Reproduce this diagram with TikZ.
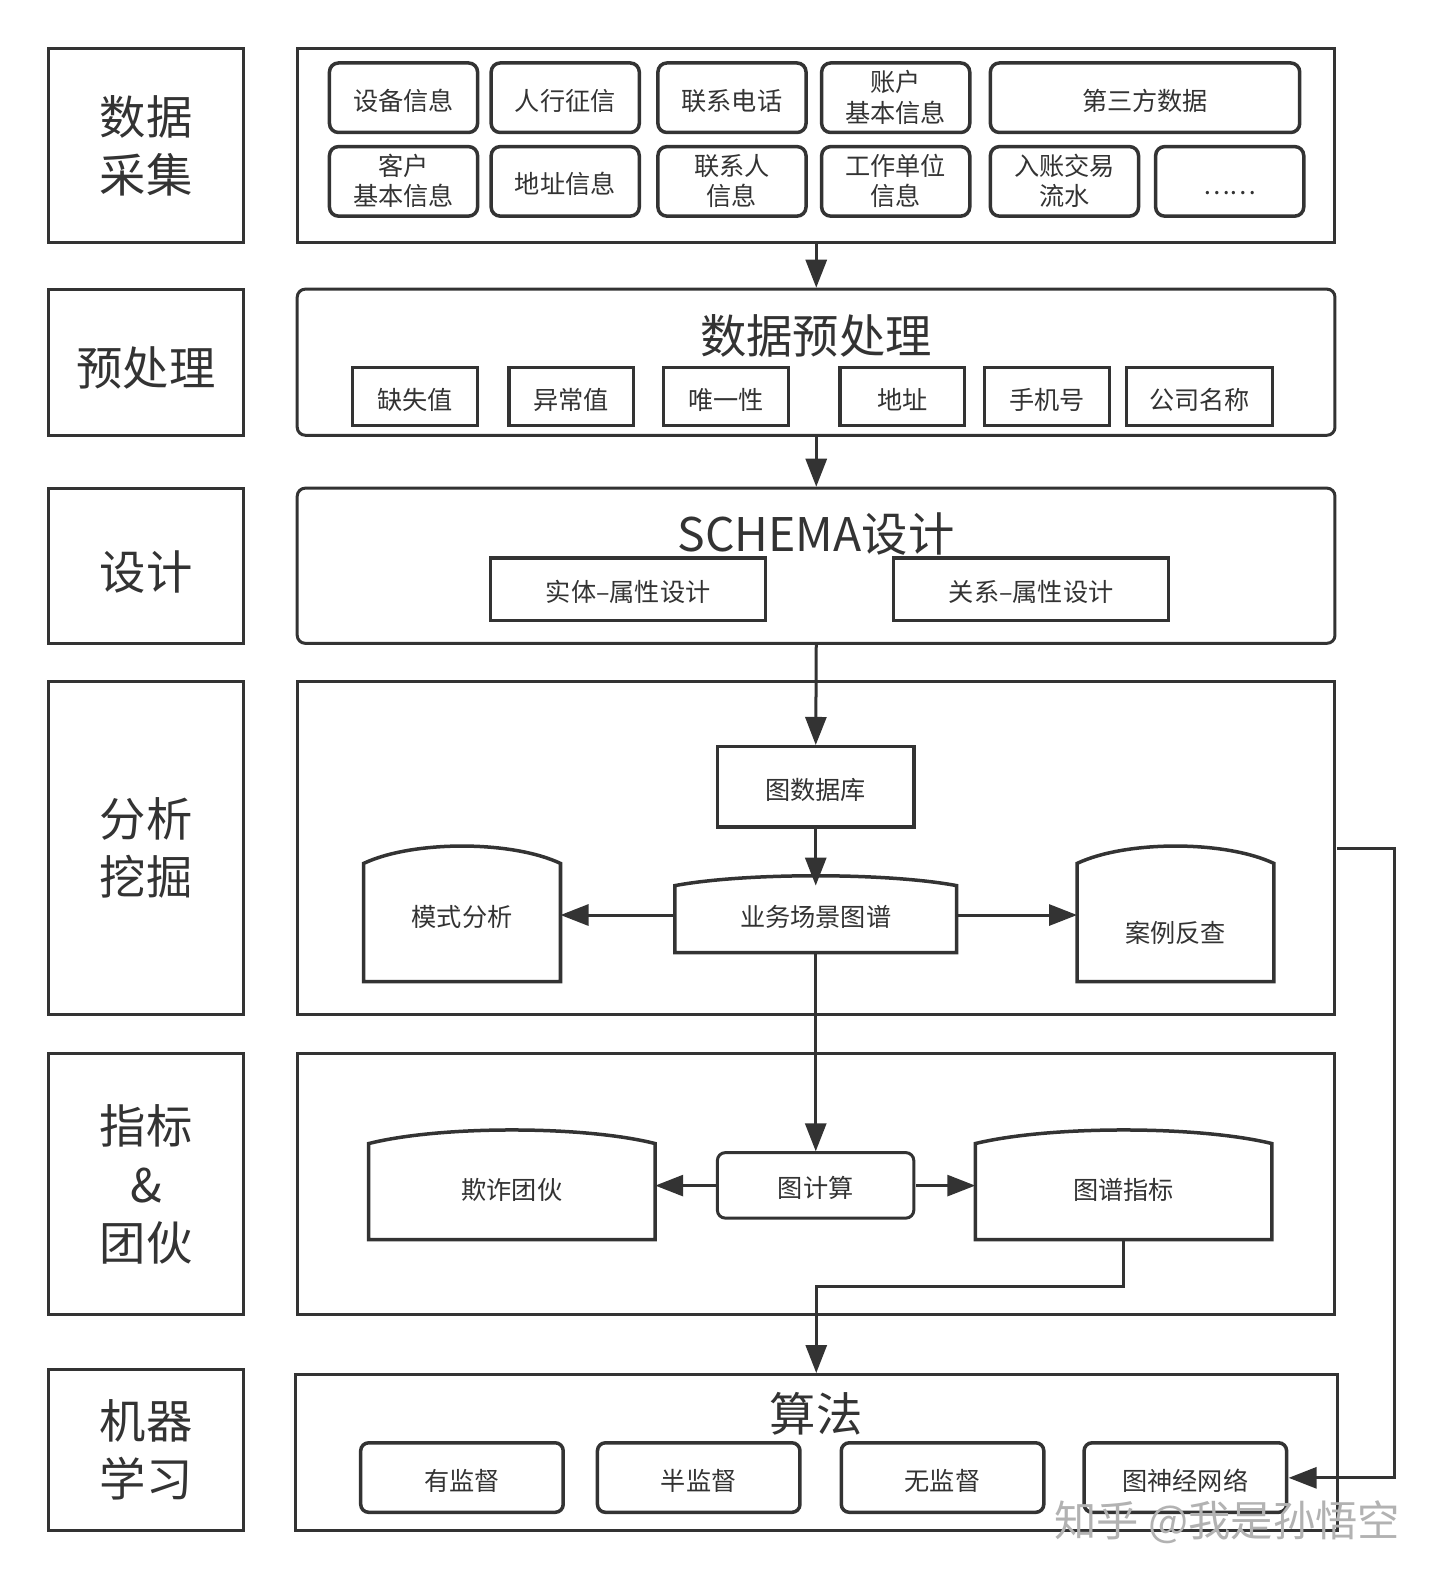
\documentclass[tikz,border=0pt]{standalone}
\usepackage{fontspec}
\setmainfont{Noto Sans CJK SC}
\usetikzlibrary{arrows.meta,calc}

\definecolor{ink}{RGB}{51,51,51}
\newcommand\hugefont{\fontsize{46}{58}\selectfont}
\newcommand\smallfont{\fontsize{25}{30}\selectfont}
\newcommand\stacked[2]{\begin{tabular}{@{}c@{}}\rule{0pt}{#1}#2\end{tabular}}
\newcommand\capline[2]{%
  \draw[draw=ink, line width=3.5pt] (#1.south west) -- (#1.north west)
    .. controls ($(#1.north west)!0.25!(#1.north east)+(0,-#2)$) and ($(#1.north west)!0.75!(#1.north east)+(0,-#2)$) .. (#1.north east)
    -- (#1.south east) -- cycle;}

\tikzset{
  stage/.style={draw=ink, line width=3pt, minimum width=194pt, align=center, font=\hugefont, text=ink,
    execute at begin node={\rule{0pt}{50pt}}},
  panel/.style={draw=ink, line width=3pt, minimum width=1030pt},
  item/.style={draw=ink, line width=3.5pt, rounded corners=9pt, minimum width=147pt, minimum height=69pt, inner sep=0pt, align=center, font=\smallfont, text=ink,
    execute at begin node={\rule{0pt}{27pt}}},
  tag/.style={draw=ink, line width=3.5pt, minimum width=124pt, minimum height=58pt, inner sep=0pt, font=\smallfont, text=ink,
    execute at begin node={\rule{0pt}{27pt}}},
  heading/.style={font=\hugefont, text=ink},
  capbox/.style={minimum width=195pt, minimum height=117pt, inner sep=0pt},
  flow/.style={draw=ink, line width=3pt, -{Triangle[length=28pt,width=21pt]}},
}

\begin{document}
\begin{tikzpicture}[x=1pt,y=-1pt,scale=1.0075,transform shape]
  \useasboundingbox[fill=white] (0,0) rectangle (1429.3,1567.2);

  % stages
  \node[stage, minimum height=193pt] (collect) at (145,144.5) {\stacked{53pt}{数据\\采集}};
  \node[stage, minimum height=145pt] (prep) at (145,359.5) {预处理};
  \node[stage, minimum height=154pt] (design) at (145,561.5) {设计};
  \node[stage, minimum height=331pt] (mining) at (145,841.5) {\stacked{52pt}{分析\\挖掘}};
  \node[stage, minimum height=259pt] (index) at (145,1175.5) {\stacked{53pt}{指标\\\&\\团伙}};
  \node[stage, minimum height=160pt] (learn) at (145,1439) {\stacked{52pt}{机器\\学习}};

  % panels
  \node[panel, minimum height=193pt] (p1) at (810,144.5) {};
  \node[panel, minimum height=145pt, rounded corners=8pt] (p2) at (810,359.5) {};
  \node[panel, minimum height=154pt, rounded corners=8pt] (p3) at (810,561.5) {};
  \node[panel, minimum height=331pt] (p4) at (810,841.5) {};
  \node[panel, minimum height=259pt] (p5) at (810,1175.5) {};
  \node[panel, minimum height=155pt, minimum width=1034pt] (p6) at (810,1441.5) {};

  % data sources
  \node[item] (device) at (400.5,97) {设备信息};
  \node[item] (credit) at (561,97) {人行征信};
  \node[item] (phone) at (726.5,97) {联系电话};
  \node[item] (account) at (889,97) {\stacked{27pt}{账户\\基本信息}};
  \node[item, minimum width=307pt] (third) at (1136.5,97) {第三方数据};
  \node[item] (customer) at (400.5,180) {\stacked{27pt}{客户\\基本信息}};
  \node[item] (address) at (561,180) {地址信息};
  \node[item] (contact) at (726.5,180) {\stacked{27pt}{联系人\\信息}};
  \node[item] (work) at (889,180) {\stacked{27pt}{工作单位\\信息}};
  \node[item] (trade) at (1056.5,180) {\stacked{27pt}{入账交易\\流水}};
  \node[item] (more) at (1220.5,180) {……};

  % preprocessing
  \node[heading] (preptitle) at (810,333) {数据预处理};
  \node[tag] (missing) at (412,393.5) {缺失值};
  \node[tag] (outlier) at (567,393.5) {异常值};
  \node[tag] (unique) at (720.5,393.5) {唯一性};
  \node[tag] (addr) at (895.5,393.5) {地址};
  \node[tag] (mobile) at (1039,393.5) {手机号};
  \node[tag, minimum width=145pt] (company) at (1190.5,393.5) {公司名称};

  % schema
  \node[heading] (schema) at (810,530) {SCHEMA设计};
  \node[tag, minimum width=273pt, minimum height=62pt] (entity) at (623.5,585) {实体–属性设计};
  \node[tag, minimum width=273pt, minimum height=62pt] (relation) at (1023.5,585) {关系–属性设计};

  % mining
  \node[tag, minimum width=195pt, minimum height=80pt] (graphdb) at (809.5,781) {图数据库};
  \node[capbox, minimum width=279pt, minimum height=66pt, label={[font=\smallfont, text=ink, yshift=2pt]center:业务场景图谱}] (scene) at (809.5,912) {};
  \node[capbox, label={[font=\smallfont, text=ink, yshift=6pt]center:模式分析}] (pattern) at (458.5,915.5) {};
  \node[capbox, label={[font=\smallfont, text=ink, yshift=-10pt]center:案例反查}] (case) at (1166.5,915.5) {};
  \capline{scene}{13}
  \capline{pattern}{23}
  \capline{case}{23}

  % index and gangs
  \node[item, minimum width=195pt, minimum height=65pt, rounded corners=8pt, line width=3pt] (compute) at (809.5,1176.5) {图计算};
  \node[capbox, minimum width=284pt, minimum height=95pt, label={[font=\smallfont, text=ink, yshift=2pt]center:欺诈团伙}] (fraud) at (508,1182.5) {};
  \node[capbox, minimum width=294pt, minimum height=95pt, label={[font=\smallfont, text=ink, yshift=2pt]center:图谱指标}] (metric) at (1115,1182.5) {};
  \capline{fraud}{18}
  \capline{metric}{18}

  % machine learning
  \node[heading] (algo) at (810,1403) {算法};
  \node[item, minimum width=201pt, rounded corners=8pt] (supervised) at (458.5,1466.5) {有监督};
  \node[item, minimum width=201pt, rounded corners=8pt] (semi) at (693.5,1466.5) {半监督};
  \node[item, minimum width=201pt, rounded corners=8pt] (unsupervised) at (935.5,1466.5) {无监督};
  \node[item, minimum width=201pt, rounded corners=8pt] (gnn) at (1176.5,1466.5) {图神经网络};

  % connectors
  \draw[flow] (p1.south) -- (p2.north);
  \draw[flow] (p2.south) -- (p3.north);
  \draw[flow] (p3.south) -- (graphdb.north);
  \draw[flow] (graphdb.south) -- (scene.north);
  \draw[flow] ([yshift=4pt]scene.west) -- ([yshift=4pt]scene.west -| pattern.east);
  \draw[flow] ([yshift=4pt]scene.east) -- ([yshift=4pt]scene.east -| case.west);
  \draw[flow] (scene.south) -- (compute.north);
  \draw[flow] (compute.west) -- (compute.west -| fraud.east);
  \draw[flow] (compute.east) -- (compute.east -| metric.west);
  \draw[flow] (metric.south) -- ++(0,46) -| (p6.north);
  \draw[flow] (p4.east) -- ++(57,0) |- (gnn.east);

  \node[font=\fontsize{42}{42}\selectfont, text=black!30] (watermark) at (1218,1511) {知乎 @我是孙悟空};
\end{tikzpicture}
\end{document}
